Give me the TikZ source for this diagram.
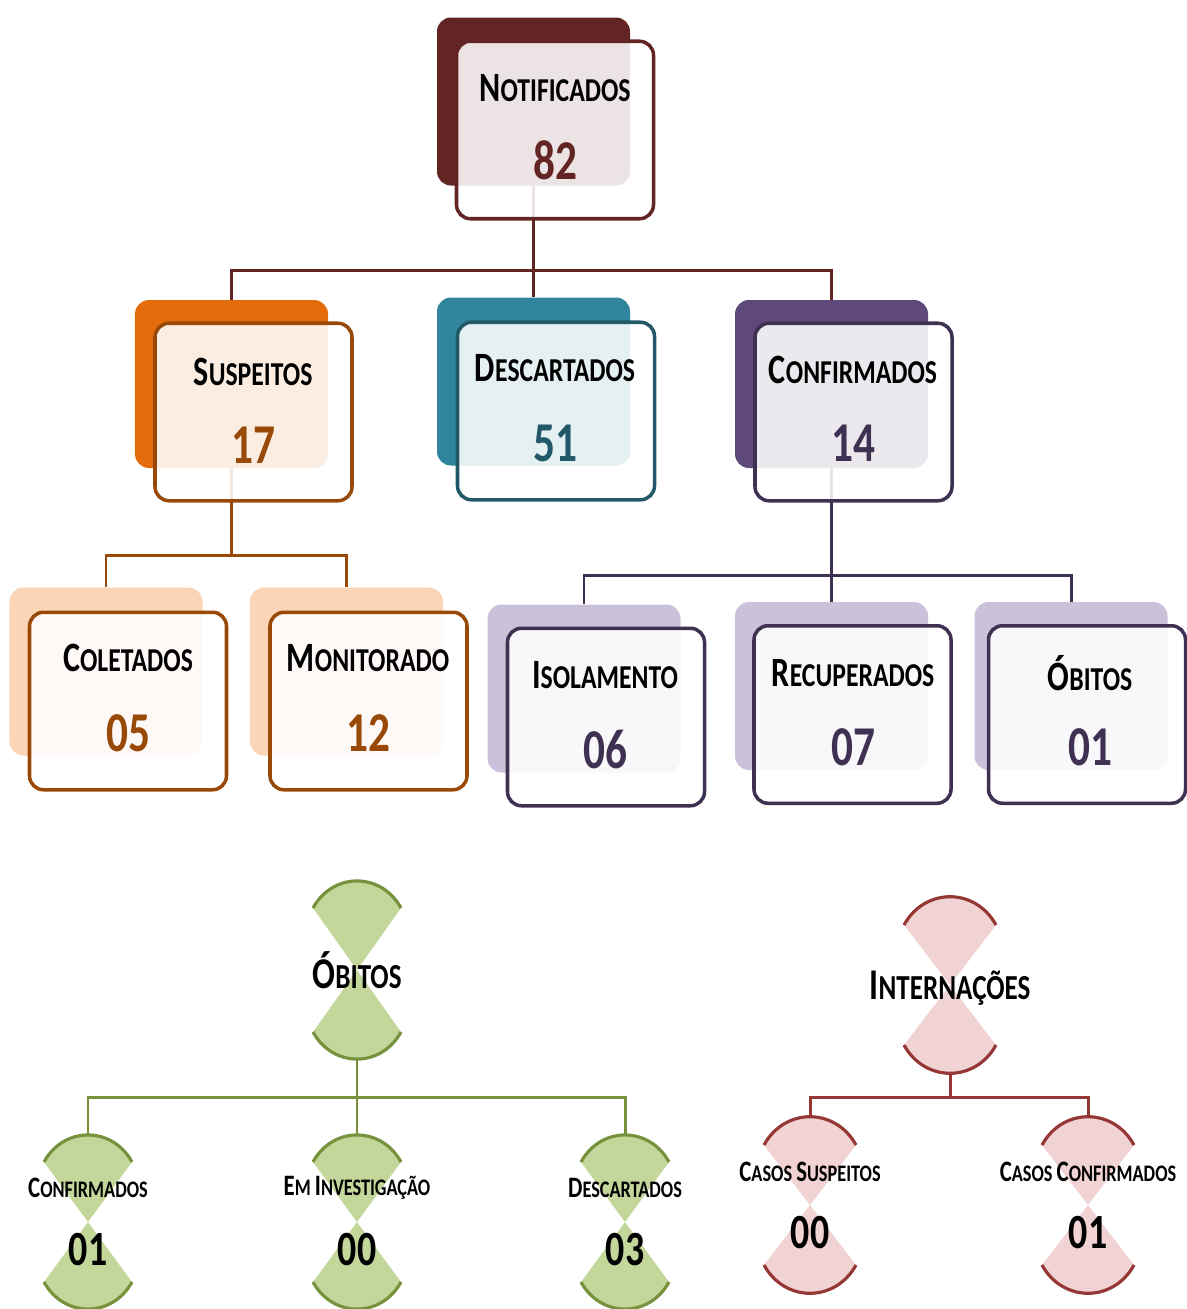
\documentclass[tikz,border=0pt]{standalone}
\usepackage{fontspec}
\setmainfont{Carlito}[FakeStretch=0.77]
\usepackage{graphicx}
\usepackage{tikz}
\usetikzlibrary{positioning,backgrounds}
\usepackage{xcolor}

\definecolor{vinho}{HTML}{632523}
\definecolor{laranja}{HTML}{E46C0A}
\definecolor{marrom}{HTML}{984807}
\definecolor{pessego}{HTML}{FBD5B5}
\definecolor{azul}{HTML}{31859C}
\definecolor{azulesc}{HTML}{215968}
\definecolor{roxo}{HTML}{5F497A}
\definecolor{roxoesc}{HTML}{3F3151}
\definecolor{lilas}{HTML}{CCC1DA}
\definecolor{verde}{HTML}{C4D79B}
\definecolor{verdeesc}{HTML}{76923C}
\definecolor{rosa}{HTML}{F0D3D2}
\definecolor{rosaesc}{HTML}{953735}

% big first letter (fake small caps)
\newcommand{\up}[1]{\scalebox{1.25}{#1}}

% hourglass: name, x, y (apex), half width, side height, fill, border
\newcommand{\hourglass}[7]{%
  \fill[#6] (#2,#3) -- (#2-#4,#3-#5) .. controls (#2-0.55*#4,#3-#5-0.82*#4) and (#2+0.55*#4,#3-#5-0.82*#4) .. (#2+#4,#3-#5) -- cycle;
  \fill[#6] (#2,#3) -- (#2-#4,#3+#5) .. controls (#2-0.55*#4,#3+#5+0.82*#4) and (#2+0.55*#4,#3+#5+0.82*#4) .. (#2+#4,#3+#5) -- cycle;
  \draw[#7, line width=1.8pt] (#2-#4,#3-#5) .. controls (#2-0.55*#4,#3-#5-0.82*#4) and (#2+0.55*#4,#3-#5-0.82*#4) .. (#2+#4,#3-#5);
  \draw[#7, line width=1.8pt] (#2-#4,#3+#5) .. controls (#2-0.55*#4,#3+#5+0.82*#4) and (#2+0.55*#4,#3+#5+0.82*#4) .. (#2+#4,#3+#5);
  \coordinate (#1-top) at (#2,#3-#5-0.615*#4);
  \coordinate (#1-bot) at (#2,#3+#5+0.615*#4);
}

\begin{document}
\begin{tikzpicture}[x=0.2mm, y=-0.2mm]
        \tikzstyle{back} = [rectangle, rounded corners=2.8mm, inner sep=0pt, minimum width=3.86cm, minimum height=3.36cm]
        \tikzstyle{front} = [rectangle, rounded corners=2.8mm, inner sep=0pt, line width=2pt, fill=white, fill opacity=0.88, minimum width=3.94cm, minimum height=3.55cm]
        \tikzstyle{ttl} = [font=\fontsize{19}{22}\selectfont\bfseries]
        \tikzstyle{num} = [font=\fontsize{32}{36}\selectfont\bfseries]
        \tikzstyle{httl} = [font=\fontsize{20}{24}\selectfont\bfseries]
        \tikzstyle{sttl} = [font=\fontsize{13.5}{16}\selectfont\bfseries]
        \tikzstyle{snum} = [font=\fontsize{28}{32}\selectfont\bfseries]
        \tikzstyle{line} = [line width=1.7pt]

        \useasboundingbox (0,0) rectangle (1186,1309);

        % back boxes
        \node[back, fill=vinho] (notifB) at (533.5,101.5) {};
        \node[back, fill=laranja] (suspB) at (231.5,384) {};
        \node[back, fill=azul] (descB) at (533.5,381.5) {};
        \node[back, fill=roxo] (confB) at (831.5,384) {};
        \node[back, fill=pessego] (coletB) at (106,671.5) {};
        \node[back, fill=pessego] (monitB) at (346.5,671.5) {};
        \node[back, fill=lilas] (isolB) at (584,688.5) {};
        \node[back, fill=lilas] (recupB) at (831.5,686) {};
        \node[back, fill=lilas] (obitB) at (1071,686) {};

        % connectors (behind the boxes)
        \begin{pgfonlayer}{background}
        \draw[line, vinho] (notifB.center) -- ++(0,168.5) -| (suspB.north);
        \draw[line, vinho] (notifB.center) -- ++(0,168.5) -| (confB.north);
        \draw[line, vinho] (notifB.center) -- (descB.north);
        \draw[line, marrom] (suspB.center) -- ++(0,171) -| (coletB.north);
        \draw[line, marrom] (suspB.center) -- ++(0,171) -| (monitB.north);
        \draw[line, roxoesc] (confB.center) -- ++(0,191) -| (isolB.north);
        \draw[line, roxoesc] (confB.center) -- ++(0,191) -| (recupB.north);
        \draw[line, roxoesc] (confB.center) -- ++(0,191) -| (obitB.north);
        \end{pgfonlayer}

        % front boxes
        \node[front, draw=vinho] (notifF) at (555,130) {};
        \node[front, draw=marrom] (suspF) at (253.5,412) {};
        \node[front, draw=azulesc] (descF) at (556,411) {};
        \node[front, draw=roxoesc] (confF) at (853.5,412) {};
        \node[front, draw=marrom] (coletF) at (128,701) {};
        \node[front, draw=marrom] (monitF) at (368.5,701) {};
        \node[front, draw=roxoesc] (isolF) at (606,717) {};
        \node[front, draw=roxoesc] (recupF) at (852.5,714.5) {};
        \node[front, draw=roxoesc] (obitF) at (1087,714.5) {};

        % texts
        \node[ttl] (notifT) at (555,88) {\up{N}OTIFICADOS};
        \node[num, text=vinho] (notifN) at (555,160) {82};
        \node[ttl] (suspT) at (253,372) {\up{S}USPEITOS};
        \node[num, text=marrom] (suspN) at (253,445) {17};
        \node[ttl] (descT) at (555,368) {\up{D}ESCARTADOS};
        \node[num, text=azulesc] (descN) at (555,443) {51};
        \node[ttl] (confT) at (853,370) {\up{C}ONFIRMADOS};
        \node[num, text=roxoesc] (confN) at (853,443) {14};
        \node[ttl] (coletT) at (128,658) {\up{C}OLETADOS};
        \node[num, text=marrom] (coletN) at (128,733) {05};
        \node[ttl] (monitT) at (368,658) {\up{M}ONITORADO};
        \node[num, text=marrom] (monitN) at (368,733) {12};
        \node[ttl] (isolT) at (605,675) {\up{I}SOLAMENTO};
        \node[num, text=roxoesc] (isolN) at (605,750) {06};
        \node[ttl] (recupT) at (853,673) {\up{R}ECUPERADOS};
        \node[num, text=roxoesc] (recupN) at (853,747) {07};
        \node[ttl] (obitT) at (1090,673) {\up{Ó}BITOS};
        \node[num, text=roxoesc] (obitN) at (1090,747) {01};

        % obitos
        \hourglass{obG}{357}{970}{44}{62}{verde}{verdeesc}
        \hourglass{obConf}{88}{1222}{44}{60}{verde}{verdeesc}
        \hourglass{obInv}{357}{1222}{44}{60}{verde}{verdeesc}
        \hourglass{obDesc}{625}{1222}{44}{60}{verde}{verdeesc}
        \draw[line, verdeesc] (obG-bot) -- ++(0,38) -| (obConf-top);
        \draw[line, verdeesc] (obG-bot) -- (obInv-top);
        \draw[line, verdeesc] (obG-bot) -- ++(0,38) -| (obDesc-top);
        \node[httl] (obGT) at (357,970) {\up{Ó}BITOS};
        \node[sttl] (obConfT) at (88,1188) {\up{C}ONFIRMADOS};
        \node[snum] (obConfN) at (88,1250) {01};
        \node[sttl] (obInvT) at (357,1188) {\up{E}M \up{I}NVESTIGAÇÃO};
        \node[snum] (obInvN) at (357,1250) {00};
        \node[sttl] (obDescT) at (625,1188) {\up{D}ESCARTADOS};
        \node[snum] (obDescN) at (625,1250) {03};

        % internacoes
        \hourglass{inG}{950}{985}{46}{60}{rosa}{rosaesc}
        \hourglass{inSusp}{810}{1205}{46}{60}{rosa}{rosaesc}
        \hourglass{inConf}{1088}{1205}{46}{60}{rosa}{rosaesc}
        \draw[line, rosaesc] (inG-bot) -- ++(0,24) -| (inSusp-top);
        \draw[line, rosaesc] (inG-bot) -- ++(0,24) -| (inConf-top);
        \node[httl] (inGT) at (950,988) {\up{I}NTERNAÇÕES};
        \node[sttl] (inSuspT) at (810,1172) {\up{C}ASOS \up{S}USPEITOS};
        \node[snum] (inSuspN) at (810,1233) {00};
        \node[sttl] (inConfT) at (1088,1172) {\up{C}ASOS \up{C}ONFIRMADOS};
        \node[snum] (inConfN) at (1088,1233) {01};
      \end{tikzpicture}
\end{document}
